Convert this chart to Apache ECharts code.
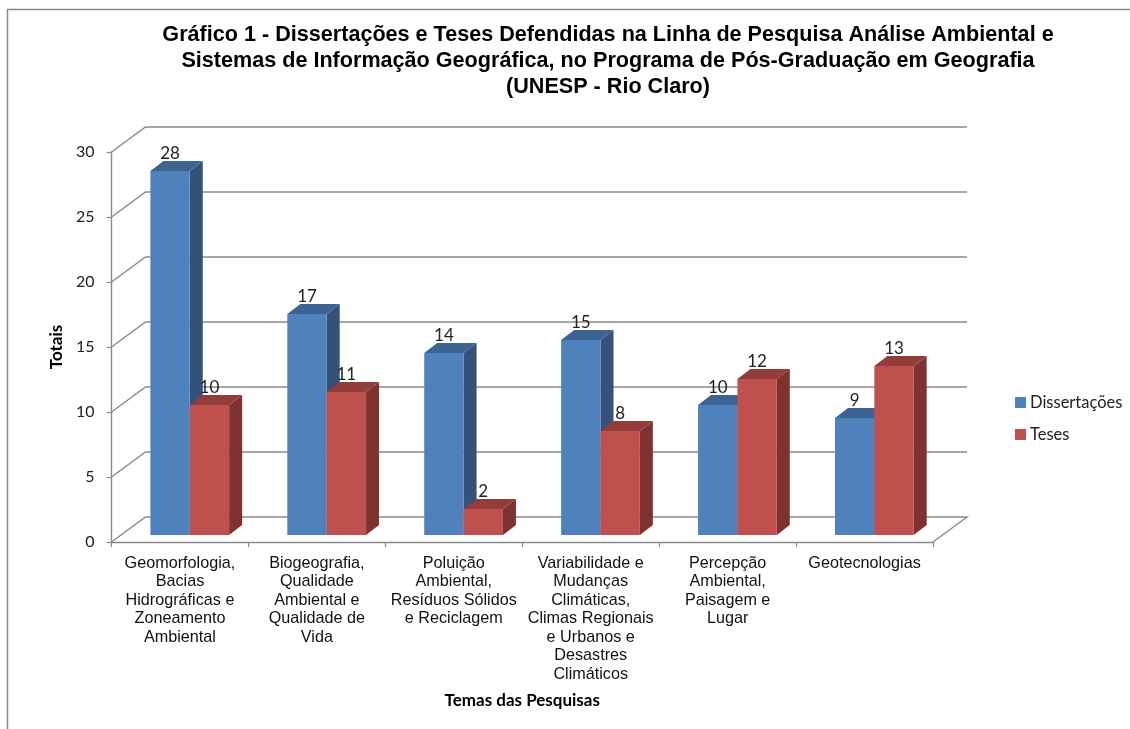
<!DOCTYPE html>
<html>
<head>
<meta charset="utf-8">
<style>html,body{margin:0;padding:0;background:#fff}#c{width:1130px;height:729px}</style>
<script src="https://cdn.jsdelivr.net/npm/echarts@6/dist/echarts.min.js"></script>
</head>
<body>
<div id="c"></div>
<script>
const categories = [
  'Geomorfologia,\nBacias\nHidrográficas e\nZoneamento\nAmbiental',
  'Biogeografia,\nQualidade\nAmbiental e\nQualidade de\nVida',
  'Poluição\nAmbiental,\nResíduos Sólidos\ne Reciclagem',
  'Variabilidade e\nMudanças\nClimáticas,\nClimas Regionais\ne Urbanos e\nDesastres\nClimáticos',
  'Percepção\nAmbiental,\nPaisagem e\nLugar',
  'Geotecnologias'
];
const dissertacoes = [28, 17, 14, 15, 10, 9];
const teses = [10, 11, 2, 8, 12, 13];
const yTicks = [0, 5, 10, 15, 20, 25, 30];
const titleText = 'Gráfico 1 - Dissertações e Teses Defendidas na Linha de Pesquisa Análise Ambiental e\nSistemas de Informação Geográfica, no Programa de Pós-Graduação em Geografia\n(UNESP - Rio Claro)';

const GRID = '#8a8a8a';
const WALL_DX = 34, WALL_DY = 25;
const BAR_SHIFT_X = 9.8, BAR_SHIFT_Y = 7, BAR_DX = 13, BAR_DY = 10, BAR_RATIO = 0.2875;

function poly(points, fill) {
  return { type: 'polygon', shape: { points }, style: { fill, stroke: null } };
}
function barRenderer(side, front, sideColor, topColor) {
  return function (params, api) {
    const i = api.value(0), v = api.value(1);
    const base = api.coord([i, 0]), top = api.coord([i, v]);
    const w = api.size([1, 0])[0] * BAR_RATIO;
    const x0 = base[0] + BAR_SHIFT_X + (side === 0 ? -w : 0), x1 = x0 + w;
    const yb = base[1] - BAR_SHIFT_Y, yt = top[1] - BAR_SHIFT_Y;
    return {
      type: 'group',
      children: [
        poly([[x1, yb], [x1 + BAR_DX, yb - BAR_DY], [x1 + BAR_DX, yt - BAR_DY], [x1, yt]], sideColor),
        poly([[x0, yt], [x0 + BAR_DX, yt - BAR_DY], [x1 + BAR_DX, yt - BAR_DY], [x1, yt]], topColor),
        poly([[x0, yb], [x0, yt], [x1, yt], [x1, yb]], front),
        {
          type: 'text',
          style: {
            text: String(v), x: (x0 + x1) / 2, y: yt - 17,
            align: 'center', verticalAlign: 'middle',
            font: '17px Lato', fill: '#222'
          }
        }
      ]
    };
  };
}
function wallRenderer(params, api) {
  const v = api.value(0);
  const p = api.coord([0, v]);
  const half = api.size([1, 0])[0] / 2;
  const xl = p[0] - half, xr = api.coord([categories.length - 1, v])[0] + half, y = p[1];
  const pts = [[xl, y], [xl + WALL_DX, y - WALL_DY], [xr + WALL_DX, y - WALL_DY]];
  if (v === 0) pts.push([xr, y]);
  return { type: 'polyline', shape: { points: pts }, style: { fill: null, stroke: GRID, lineWidth: 1.4 } };
}

const chart = echarts.init(document.getElementById('c'));
chart.setOption({
  animation: false,
  backgroundColor: '#fff',
  title: {
    text: titleText, left: 603, top: 17, textAlign: 'center',
    textStyle: { fontFamily: 'Liberation Sans', fontWeight: 'bold', fontSize: 21.6, lineHeight: 26, color: '#000' }
  },
  grid: { left: 111.5, top: 152, width: 821.5, height: 390 },
  legend: {
    data: ['Dissertações', 'Teses'], orient: 'vertical', left: 1010, top: 389, itemGap: 15,
    itemWidth: 11, itemHeight: 11, icon: 'rect',
    textStyle: { fontFamily: 'Lato', fontSize: 16.5, color: '#222', padding: [0, 0, 0, -1] }
  },
  xAxis: {
    type: 'category', data: categories,
    name: 'Temas das Pesquisas', nameLocation: 'middle', nameGap: 150,
    nameTextStyle: { fontFamily: 'Lato', fontWeight: 'bold', fontSize: 17, color: '#000' },
    axisLine: { lineStyle: { color: GRID, width: 1.4 } },
    axisTick: { show: true, length: 5, lineStyle: { color: GRID, width: 1.2 } },
    axisLabel: { interval: 0, margin: 12, fontFamily: 'Liberation Sans', fontSize: 16.2, lineHeight: 18.5, color: '#111' }
  },
  yAxis: {
    type: 'value', min: 0, max: 30, interval: 5,
    name: 'Totais', nameLocation: 'middle', nameGap: 40, nameRotate: 90,
    nameTextStyle: { fontFamily: 'Lato', fontWeight: 'bold', fontSize: 17, color: '#000' },
    axisLine: { show: true, lineStyle: { color: GRID, width: 1.4 } },
    axisTick: { show: true, length: 5, lineStyle: { color: GRID, width: 1.2 } },
    axisLabel: { margin: 17, fontFamily: 'Lato', fontSize: 16, color: '#222' },
    splitLine: { show: false }
  },
  series: [
    { name: 'walls', type: 'custom', silent: true, z: 1, clip: false, renderItem: wallRenderer,
      data: yTicks.map(t => [t]), encode: { y: 0 } },
    { name: 'Dissertações', type: 'custom', z: 2, clip: false,
      renderItem: barRenderer(0, '#4F81BD', '#345279', '#3C6392'),
      itemStyle: { color: '#4F81BD' },
      data: dissertacoes.map((v, i) => [i, v]), encode: { x: 0, y: 1 } },
    { name: 'Teses', type: 'custom', z: 3, clip: false,
      renderItem: barRenderer(1, '#C0504D', '#7E3331', '#933D3A'),
      itemStyle: { color: '#C0504D' },
      data: teses.map((v, i) => [i, v]), encode: { x: 0, y: 1 } }
  ],
  graphic: [
    { type: 'polyline', silent: true, shape: { points: [[7.5, 729], [7.5, 9.5], [1130, 9.5]] },
      style: { fill: null, stroke: '#8a8a8a', lineWidth: 1.5 } }
  ]
});
</script>
</body>
</html>
